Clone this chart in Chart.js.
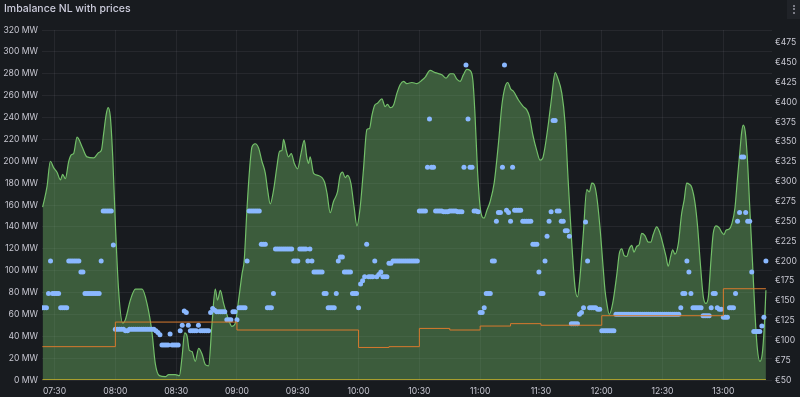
<!DOCTYPE html>
<html>
<head>
<meta charset="utf-8">
<script src="https://cdn.jsdelivr.net/npm/chart.js@4.4.1/dist/chart.umd.min.js"></script>
<style>
html,body{margin:0;padding:0;background:#181b1f;width:800px;height:397px;overflow:hidden;}
#wrap{position:relative;width:800px;height:397px;background:#181b1f;}
canvas{position:absolute;left:0;top:0;}
#title{position:absolute;left:4px;top:2px;font-family:Inter,"Noto Sans",sans-serif;font-weight:500;font-size:10.5px;line-height:14px;color:#ccccdc;white-space:nowrap;}
#menu{position:absolute;left:787px;top:0;width:13px;height:19px;background:#202328;}
#menu span{position:absolute;left:5.5px;width:2px;height:2px;border-radius:50%;background:#9a9ba6;}
</style>
</head>
<body>
<div id="wrap">
  <canvas id="chart" width="800" height="397"></canvas>
  <div id="title">Imbalance NL with prices</div>
  <div id="menu"><span style="top:4.5px"></span><span style="top:8px"></span><span style="top:11.5px"></span></div>
</div>
<script>
// ---------------- DATA ----------------
// Start of the series (clock time)
const seriesStart = "07:24";

// Imbalance (MW): minutes after seriesStart, and value
const imbalanceMinute = [0.1,2.3,3.9,5.6,7.2,8.9,10.0,11.3,13.0,14.3,
15.4,17.1,19.6,22.0,25.3,27.8,29.1,30.2,31.4,32.4,
33.5,34.7,36.0,37.6,39.6,40.9,43.4,45.9,49.2,51.6,
54.1,55.7,57.7,60.7,62.3,65.6,67.6,68.9,70.2,71.4,
72.5,73.8,75.4,77.1,78.7,80.4,82.0,83.7,85.3,86.4,
87.8,89.4,91.9,93.5,95.2,96.8,98.5,99.6,100.9,102.2,
103.4,105.0,106.7,108.3,110.0,111.1,112.4,114.1,115.7,117.0,
118.2,119.0,120.3,121.4,122.8,124.3,125.9,127.6,129.2,130.5,
131.3,132.1,133.8,136.2,139.2,140.4,142.0,143.6,145.6,146.9,
148.1,149.4,150.5,152.2,153.8,155.2,156.8,158.4,160.1,161.4,
162.6,163.9,165.3,167.5,169.1,170.3,171.6,173.2,174.9,176.5,
178.2,179.8,182.3,184.8,187.2,188.9,191.3,193.8,197.1,199.2,
201.2,202.8,204.5,206.1,207.7,209.4,211.0,212.4,213.5,214.6,
216.0,217.9,219.3,220.9,222.9,225.0,226.7,228.3,229.6,231.1,
232.4,234.9,237.3,239.0,240.3,242.0,243.9,245.6,246.9,248.0,
249.7,251.3,253.0,254.1,256.3,257.9,259.5,261.2,262.8,264.0,
265.3,266.9,268.6,269.9,271.1,272.2,273.5,275.1,276.8,277.6,
278.5,279.7,281.4,283.4,284.7,285.9,287.0,288.3,289.6,290.8,
291.9,293.2,294.5,295.7,297.3,299.0,300.2,301.4,303.1,304.4,
306.1,307.7,308.8,310.0,311.0,312.1,313.8,315.4,316.7,317.9,
319.2,320.4,322.0,323.3,324.5,326.1,327.4,328.6,329.9,331.0,
332.4,334.0,335.2,336.3,337.3,338.9,340.2,341.7,342.9,344.2,
345.0,345.8,346.8,347.8,349.1,350.4,351.6,352.7,354.0,355.2,
356.2,357.0];
const imbalanceMW = [158,177,200,194,190,183,188,184,200,206,
207,222,213,204,203,208,210,225,242,249,
241,204,143,82,52,55,73,83,83,70,
43,15,4,3,5,5,4,21,43,40,
27,26,17,29,24,14,13,52,83,73,
82,70,55,49,52,73,97,110,155,192,
213,216,212,200,189,174,161,174,195,209,
210,220,210,204,207,198,193,207,219,203,
198,204,189,187,181,171,153,163,172,187,
190,185,187,180,158,141,158,192,229,230,
242,251,253,257,250,252,249,251,262,270,
273,271,272,271,274,277,283,281,279,276,
280,280,275,273,279,284,283,274,241,195,
158,148,155,163,180,216,251,268,272,266,
264,256,250,247,241,224,210,201,203,213,
235,259,281,277,262,235,180,125,85,76,
95,134,174,172,180,179,168,140,100,82,
70,60,70,96,116,120,114,113,120,123,
117,122,124,134,132,126,126,133,140,136,
125,113,104,113,119,115,125,152,165,180,
179,176,162,140,110,76,70,76,110,134,
141,139,135,133,137,138,143,157,183,210,
226,233,227,204,155,107,61,30,17,24,
49,82];

// Imbalance price (EUR), one value per minute from seriesStart
const imbalancePriceEUR = [
141,141,141,159,200,159,159,159,159,141,
141,141,141,200,200,200,200,200,200,186,
186,159,159,159,159,159,159,159,159,200,
263,263,263,263,263,220,114,114,114,114,
114,112,112,114,114,114,114,114,114,114,
114,114,114,114,114,114,112,110,107,94,
94,94,94,108,94,94,94,94,112,119,
137,135,119,112,112,112,112,119,112,112,
112,112,112,135,140,138,136,136,136,136,
136,126,126,126,136,136,126,141,141,141,
141,200,263,263,263,263,263,263,221,221,
221,141,141,141,159,215,215,215,215,215,
215,215,215,215,200,200,200,215,215,215,
215,200,215,200,186,186,186,186,186,159,
159,141,141,141,141,159,200,205,205,186,
186,186,186,159,159,159,141,171,175,180,
221,180,180,180,200,180,183,186,180,180,
180,197,197,200,200,200,200,200,200,200,
200,200,200,200,200,200,263,263,263,263,
318,379,318,318,263,263,263,263,262,262,
262,263,263,263,263,262,262,262,318,447,
379,318,318,263,263,262,135,135,141,159,
159,159,200,200,250,261,261,318,447,264,
261,250,318,264,264,264,264,250,250,250,
250,250,221,221,221,186,159,159,200,231,
250,262,377,377,263,263,250,250,238,238,
231,121,121,121,121,133,135,141,249,200,
141,141,141,141,139,139,112,112,112,112,
112,112,112,133,133,133,133,133,133,133,
133,133,133,133,133,133,133,133,133,133,
133,133,133,133,133,133,133,133,133,133,
133,133,133,133,133,141,159,159,200,186,
159,141,141,141,141,141,131,131,131,131,
141,159,159,141,139,139,129,129,129,141,
141,141,159,250,261,331,331,261,250,250,
186,111,111,111,111,118,129,200];

// Day-ahead price (EUR), stepped: value holds from each time
const dayAheadTime = ["07:24","08:00","09:00","10:00","10:15","10:30","10:45","11:00","11:15","11:30","12:00","13:00","13:21"];
const dayAheadEUR  = [92,123,113,91,92,115,113,118,121,119,131,165,165];

// Baseline series (MW)
const baselineTime = ["07:24","13:21"];
const baselineMW = [0,0];

// Axis ticks
const xTickLabels = ["07:30","08:00","08:30","09:00","09:30","10:00","10:30","11:00","11:30","12:00","12:30","13:00"];
const mwTicks = {min:0, max:320, step:20};
const eurTicks = {min:50, max:491, step:25};
const xRange = {min:"07:23.8", max:"13:24"};

// ---------------- BUILD ----------------
function toMin(s){
  const p = s.split(':');
  return parseInt(p[0],10)*60 + parseFloat(p[1]);
}
function fmt(m){
  const h = Math.floor(m/60), mm = Math.round(m%60);
  return String(h).padStart(2,'0') + ':' + String(mm).padStart(2,'0');
}
const t0 = toMin(seriesStart);
const imbPts = imbalanceMinute.map((m,i)=>({x:t0+m, y:imbalanceMW[i]}));
const pricePts = imbalancePriceEUR.map((v,i)=>({x:t0+i, y:v}));
const daPts = dayAheadTime.map((t,i)=>({x:toMin(t), y:dayAheadEUR[i]}));
const basePts = baselineTime.map((t,i)=>({x:toMin(t), y:baselineMW[i]}));

const tickColor = '#c8c8d2';
const gridColor = 'rgba(204,204,220,0.08)';
const tickFont = {family:'Inter', size:8.6};

new Chart(document.getElementById('chart').getContext('2d'), {
  type:'line',
  data:{datasets:[
    {label:'Imbalance', data:imbPts, yAxisID:'yMW', borderColor:'#73BF69', borderWidth:1.2,
     backgroundColor:'rgba(115,191,105,0.40)', fill:'origin', pointRadius:0,
     cubicInterpolationMode:'monotone', order:4},
    {label:'Imbalance price', data:pricePts, yAxisID:'yEUR', showLine:false, pointRadius:2.5,
     pointBackgroundColor:'#8AB8FF', pointBorderWidth:0, borderColor:'#8AB8FF', order:2},
    {label:'Day-ahead price', data:daPts, yAxisID:'yEUR', stepped:true, borderColor:'#D97A2E',
     borderWidth:1, pointRadius:0, fill:false, order:1},
    {label:'Baseline', data:basePts, yAxisID:'yMW', borderColor:'#CDB52A', borderWidth:1.5,
     pointRadius:0, fill:false, order:0}
  ]},
  options:{
    responsive:false, animation:false, devicePixelRatio:1,
    layout:{padding:{top:30,left:0,right:0,bottom:0}},
    plugins:{legend:{display:false}, tooltip:{enabled:false}},
    scales:{
      x:{type:'linear', min:toMin(xRange.min), max:toMin(xRange.max),
        afterBuildTicks:(s)=>{ s.ticks = xTickLabels.map(t=>({value:toMin(t)})); },
        ticks:{autoSkip:false, maxRotation:0, color:tickColor, font:tickFont, padding:6,
          callback:(v)=>fmt(v)},
        grid:{color:gridColor, drawTicks:false}, border:{display:false},
        afterFit:(s)=>{s.height=17;}},
      yMW:{position:'left', min:mwTicks.min, max:mwTicks.max,
        ticks:{stepSize:mwTicks.step, includeBounds:false, color:tickColor, font:tickFont, padding:4,
          callback:(v)=>v+' MW'},
        grid:{color:gridColor, drawTicks:false}, border:{display:false},
        afterFit:(s)=>{s.width=42;}},
      yEUR:{position:'right', min:eurTicks.min, max:eurTicks.max,
        ticks:{stepSize:eurTicks.step, includeBounds:false, color:tickColor, font:tickFont, padding:3,
          callback:(v)=>'€'+v},
        grid:{display:false, drawTicks:false}, border:{display:false},
        afterFit:(s)=>{s.width=28;}}
    }
  }
});
</script>
</body>
</html>
